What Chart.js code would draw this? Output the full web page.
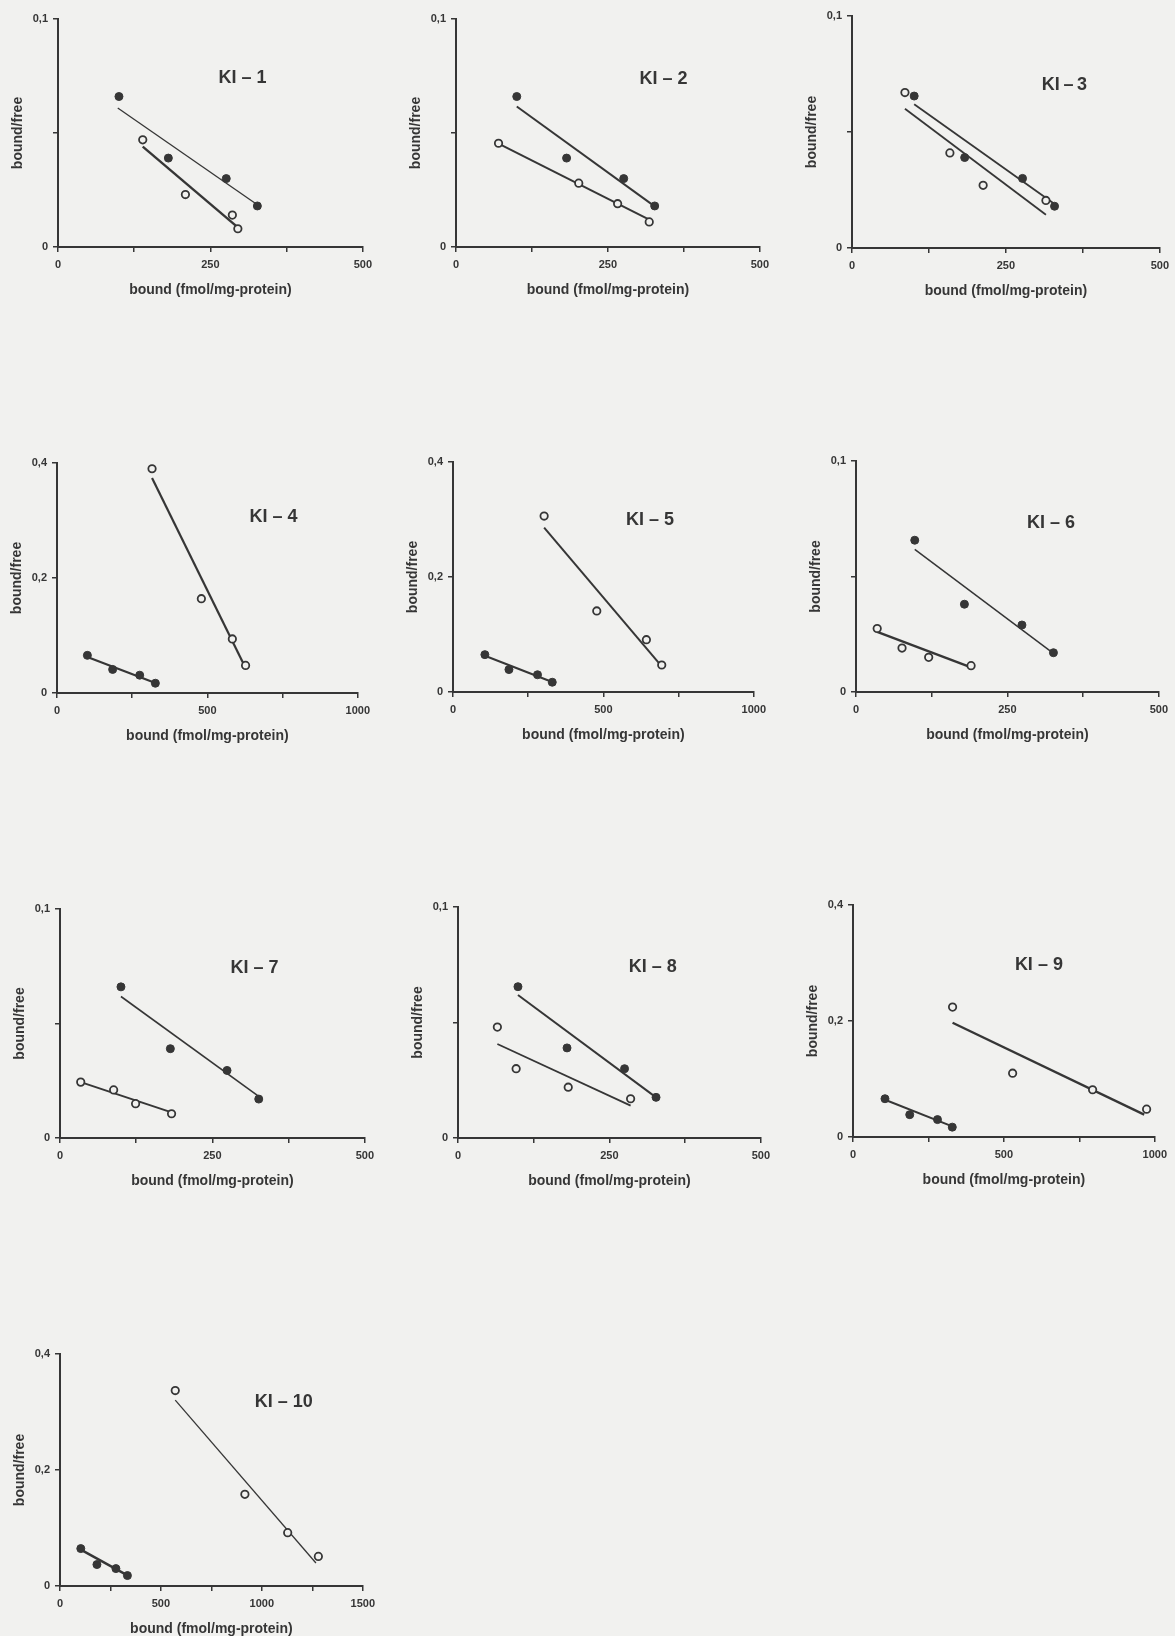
<!DOCTYPE html>
<html>
<head>
<meta charset="utf-8">
<script src="https://cdn.jsdelivr.net/npm/chart.js@4.4.1/dist/chart.umd.min.js"></script>
<style>
  html, body { margin: 0; padding: 0; background: #f1f1ef; }
  body { width: 1175px; height: 1636px; overflow: hidden; position: relative; }
  canvas { position: absolute; }
</style>
</head>
<body>
<script>
// Scatchard plots, x = bound (fmol/mg protein), y = bound/free
// "filled" = filled circles, "open" = open circles, "Fit" = end points of the drawn regression line
const ki1Filled = [[100, 0.066], [181, 0.039], [276, 0.030], [327, 0.018]];
const ki1Open = [[139, 0.047], [209, 0.023], [286, 0.014], [295, 0.008]];
const ki1FilledFit = [[98, 0.061], [327, 0.0185]];
const ki1OpenFit = [[139, 0.044], [295, 0.0086]];

const ki2Filled = [[100, 0.066], [182, 0.039], [276, 0.030], [327, 0.018]];
const ki2Open = [[70, 0.0455], [202, 0.028], [266, 0.019], [318, 0.011]];
const ki2FilledFit = [[100, 0.0616], [327, 0.0178]];
const ki2OpenFit = [[70, 0.0453], [318, 0.012]];

const ki3Filled = [[101, 0.0655], [183, 0.039], [277, 0.030], [329, 0.018]];
const ki3Open = [[86, 0.067], [159, 0.041], [213, 0.027], [315, 0.0205]];
const ki3FilledFit = [[101, 0.062], [329, 0.019]];
const ki3OpenFit = [[86, 0.060], [315, 0.0143]];

const ki4Filled = [[101, 0.0655], [185, 0.041], [275, 0.031], [327, 0.017]];
const ki4Open = [[316, 0.39], [480, 0.164], [583, 0.094], [627, 0.048]];
const ki4FilledFit = [[101, 0.0626], [327, 0.0174]];
const ki4OpenFit = [[316, 0.374], [627, 0.0435]];

const ki5Filled = [[106, 0.065], [186, 0.039], [281, 0.030], [330, 0.017]];
const ki5Open = [[303, 0.306], [478, 0.141], [643, 0.091], [694, 0.047]];
const ki5FilledFit = [[106, 0.063], [330, 0.0173]];
const ki5OpenFit = [[303, 0.286], [694, 0.0445]];

const ki6Filled = [[97, 0.0657], [179, 0.038], [274, 0.029], [326, 0.017]];
const ki6Open = [[35, 0.0275], [76, 0.019], [120, 0.015], [190, 0.0114]];
const ki6FilledFit = [[97, 0.0617], [326, 0.0167]];
const ki6OpenFit = [[35, 0.026], [190, 0.0107]];

const ki7Filled = [[100, 0.066], [181, 0.039], [274, 0.0295], [326, 0.017]];
const ki7Open = [[34, 0.0244], [88, 0.021], [124, 0.015], [183, 0.0106]];
const ki7FilledFit = [[100, 0.0618], [326, 0.0182]];
const ki7OpenFit = [[34, 0.0244], [183, 0.0112]];

const ki8Filled = [[99, 0.0655], [180, 0.039], [275, 0.030], [327, 0.0176]];
const ki8Open = [[65, 0.048], [96, 0.030], [182, 0.022], [285, 0.017]];
const ki8FilledFit = [[99, 0.0619], [327, 0.0176]];
const ki8OpenFit = [[65, 0.0407], [285, 0.014]];

const ki9Filled = [[106, 0.066], [188, 0.0385], [280, 0.030], [329, 0.017]];
const ki9Open = [[330, 0.224], [529, 0.110], [794, 0.0815], [973, 0.048]];
const ki9FilledFit = [[106, 0.0643], [329, 0.0184]];
const ki9OpenFit = [[330, 0.197], [965, 0.0385]];

const ki10Filled = [[103, 0.0645], [183, 0.037], [277, 0.030], [334, 0.018]];
const ki10Open = [[571, 0.337], [916, 0.158], [1128, 0.092], [1280, 0.051]];
const ki10FilledFit = [[103, 0.0627], [334, 0.0184]];
const ki10OpenFit = [[571, 0.3206], [1268, 0.0397]];

const panelTitles = ['KI – 1', 'KI – 2', 'KI\u2009–\u20093', 'KI – 4', 'KI – 5',
  'KI – 6', 'KI – 7', 'KI – 8', 'KI – 9', 'KI – 10'];

// tick positions and labels
const yTicksLow = [0, 0.05, 0.1];
const yLabelsLow = ['0', '', '0,1'];
const yTicksHigh = [0, 0.2, 0.4];
const yLabelsHigh = ['0', '0,2', '0,4'];
const xTicks500 = [0, 125, 250, 375, 500];
const xLabels500 = ['0', '', '250', '', '500'];
const xTicks1000 = [0, 250, 500, 750, 1000];
const xLabels1000 = ['0', '', '500', '', '1000'];
const xTicks1500 = [0, 250, 500, 750, 1000, 1250, 1500];
const xLabels1500 = ['0', '', '500', '', '1000', '', '1500'];

const xTitle = 'bound (fmol/mg-protein)';
const yTitle = 'bound/free';

// ---- layout (page pixels of each plot's axes: left, right, top, bottom) ----
const axisBoxes = [
  [58, 364, 19, 247], [456, 761, 19, 247], [852, 1161, 16, 248],
  [57, 362, 463, 693], [453, 758, 462, 692], [856, 1160, 461, 692],
  [60, 366, 909, 1138], [458, 762, 907, 1138], [853, 1159, 905, 1137],
  [60, 367, 1354, 1586]
];
// title centre as fraction of the plot area
const titleSpots = [
  [0.605, 0.26], [0.683, 0.263], [0.69, 0.298], [0.72, 0.235], [0.655, 0.253],
  [0.644, 0.27], [0.638, 0.259], [0.643, 0.26], [0.616, 0.258], [0.739, 0.206]
];
// regression line widths [filled, open]
const fitWidths = [
  [1.3, 2.4], [2, 2], [1.8, 1.8], [2.2, 2.2], [2, 2],
  [1.5, 2.4], [1.6, 2], [2, 1.8], [2, 2.4], [2.4, 1.3]
];

const ink = '#363636';
const paper = '#f1f1ef';
const fontFamily = '"Liberation Sans", Arial, sans-serif';

const toXY = (pairs) => pairs.map(([x, y]) => ({ x: x, y: y }));

const panelTitle = {
  id: 'panelTitle',
  afterDraw(chart, args, opts) {
    const { ctx, chartArea } = chart;
    ctx.save();
    ctx.font = 'bold 18px ' + fontFamily;
    ctx.fillStyle = ink;
    ctx.textAlign = 'center';
    ctx.textBaseline = 'middle';
    ctx.fillText(opts.text,
      chartArea.left + opts.fx * (chartArea.right - chartArea.left),
      chartArea.top + opts.fy * (chartArea.bottom - chartArea.top));
    ctx.restore();
  }
};

function makePanel(i, filled, open, filledFit, openFit, xTicks, xLabels, yTicks, yLabels) {
  const [x0, x1, y0, y1] = axisBoxes[i];
  const padL = 58, padT = 19, padR = 14, padB = 62;
  const yScaleW = 48, xScaleH = 52;

  const canvas = document.createElement('canvas');
  canvas.width = x1 - x0 + padL + padR;
  canvas.height = y1 - y0 + padT + padB;
  canvas.style.left = (x0 - padL) + 'px';
  canvas.style.top = (y0 - padT) + 'px';
  document.body.appendChild(canvas);

  const tickFont = { family: fontFamily, size: 11, weight: 'bold' };
  const titleFont = { family: fontFamily, size: 14, weight: 'bold' };

  new Chart(canvas, {
    type: 'scatter',
    data: {
      datasets: [
        {
          data: toXY(filled),
          pointRadius: 4,
          pointBackgroundColor: ink,
          pointBorderColor: ink,
          pointBorderWidth: 1
        },
        {
          data: toXY(open),
          pointRadius: 3.7,
          pointBackgroundColor: paper,
          pointBorderColor: ink,
          pointBorderWidth: 1.8
        },
        {
          data: toXY(filledFit),
          showLine: true,
          pointRadius: 0,
          borderColor: ink,
          borderWidth: fitWidths[i][0]
        },
        {
          data: toXY(openFit),
          showLine: true,
          pointRadius: 0,
          borderColor: ink,
          borderWidth: fitWidths[i][1]
        }
      ]
    },
    options: {
      responsive: false,
      animation: false,
      events: [],
      layout: {
        autoPadding: false,
        padding: { left: padL - yScaleW, top: padT, right: padR, bottom: padB - xScaleH }
      },
      plugins: {
        legend: { display: false },
        tooltip: { enabled: false },
        panelTitle: { text: panelTitles[i], fx: titleSpots[i][0], fy: titleSpots[i][1] }
      },
      scales: {
        x: {
          type: 'linear',
          min: xTicks[0],
          max: xTicks[xTicks.length - 1],
          afterFit: (s) => { s.height = xScaleH; },
          afterBuildTicks: (s) => { s.ticks = xTicks.map((v) => ({ value: v })); },
          ticks: {
            autoSkip: false,
            maxRotation: 0,
            padding: 6,
            color: ink,
            font: tickFont,
            callback: (v, idx) => xLabels[idx]
          },
          grid: { drawOnChartArea: false, drawTicks: true, tickLength: 5, color: ink, lineWidth: 1.5 },
          border: { display: true, color: ink, width: 2 },
          title: { display: true, text: xTitle, color: ink, font: titleFont, padding: 0 }
        },
        y: {
          type: 'linear',
          min: yTicks[0],
          max: yTicks[yTicks.length - 1],
          afterFit: (s) => { s.width = yScaleW; },
          afterBuildTicks: (s) => { s.ticks = yTicks.map((v) => ({ value: v })); },
          ticks: {
            autoSkip: false,
            padding: 5,
            color: ink,
            font: tickFont,
            callback: (v, idx) => yLabels[idx]
          },
          grid: { drawOnChartArea: false, drawTicks: true, tickLength: 5, color: ink, lineWidth: 1.5 },
          border: { display: true, color: ink, width: 2 },
          title: { display: true, text: yTitle, color: ink, font: titleFont, padding: 0 }
        }
      }
    },
    plugins: [panelTitle]
  });
}

makePanel(0, ki1Filled, ki1Open, ki1FilledFit, ki1OpenFit, xTicks500, xLabels500, yTicksLow, yLabelsLow);
makePanel(1, ki2Filled, ki2Open, ki2FilledFit, ki2OpenFit, xTicks500, xLabels500, yTicksLow, yLabelsLow);
makePanel(2, ki3Filled, ki3Open, ki3FilledFit, ki3OpenFit, xTicks500, xLabels500, yTicksLow, yLabelsLow);
makePanel(3, ki4Filled, ki4Open, ki4FilledFit, ki4OpenFit, xTicks1000, xLabels1000, yTicksHigh, yLabelsHigh);
makePanel(4, ki5Filled, ki5Open, ki5FilledFit, ki5OpenFit, xTicks1000, xLabels1000, yTicksHigh, yLabelsHigh);
makePanel(5, ki6Filled, ki6Open, ki6FilledFit, ki6OpenFit, xTicks500, xLabels500, yTicksLow, yLabelsLow);
makePanel(6, ki7Filled, ki7Open, ki7FilledFit, ki7OpenFit, xTicks500, xLabels500, yTicksLow, yLabelsLow);
makePanel(7, ki8Filled, ki8Open, ki8FilledFit, ki8OpenFit, xTicks500, xLabels500, yTicksLow, yLabelsLow);
makePanel(8, ki9Filled, ki9Open, ki9FilledFit, ki9OpenFit, xTicks1000, xLabels1000, yTicksHigh, yLabelsHigh);
makePanel(9, ki10Filled, ki10Open, ki10FilledFit, ki10OpenFit, xTicks1500, xLabels1500, yTicksHigh, yLabelsHigh);
</script>
</body>
</html>
